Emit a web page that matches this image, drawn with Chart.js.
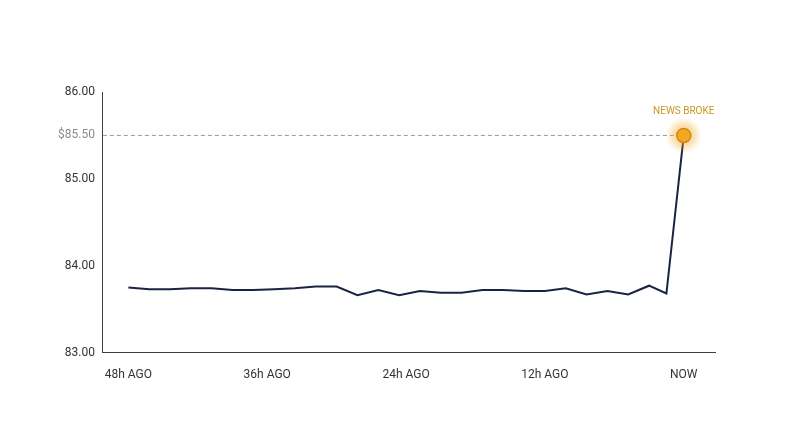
<!DOCTYPE html>
<html>
<head>
<script src="https://cdn.jsdelivr.net/npm/chart.js"></script>
<style>
  body { margin: 0; background: #fff; font-family: Roboto, sans-serif; }
  #wrap { width: 800px; height: 447px; }
</style>
</head>
<body>
<div id="wrap"><canvas id="c"></canvas></div>
<script>
// hours relative to now, and price
const hours = [-48, -46.2, -44.4, -42.6, -40.8, -39, -37.2, -35.4, -33.6, -31.8, -30, -28.2, -26.4, -24.6, -22.8, -21, -19.2, -17.4, -15.6, -13.8, -12, -10.2, -8.4, -6.6, -4.8, -3, -1.5, 0];
const prices = [83.75, 83.73, 83.73, 83.74, 83.74, 83.72, 83.72, 83.73, 83.74, 83.76, 83.76, 83.66, 83.72, 83.66, 83.71, 83.69, 83.69, 83.72, 83.72, 83.71, 83.71, 83.74, 83.67, 83.71, 83.67, 83.77, 83.68, 85.50];
const xTicks = [-48, -36, -24, -12, 0];
const xTickLabels = ['48h AGO', '36h AGO', '24h AGO', '12h AGO', 'NOW'];
const yTicks = [83, 84, 85, 85.5, 86];
const markLevel = 85.5;
const markLabel = 'NEWS BROKE';

const newsPlugin = {
  id: 'news',
  beforeDatasetsDraw(chart) {
    const { ctx, chartArea, scales } = chart;
    const y = scales.y.getPixelForValue(markLevel);
    const xEnd = scales.x.getPixelForValue(hours[hours.length - 1]);
    ctx.save();
    ctx.strokeStyle = '#9a9a9a';
    ctx.lineWidth = 1;
    ctx.setLineDash([4, 3]);
    ctx.beginPath();
    ctx.moveTo(chartArea.left, y);
    ctx.lineTo(xEnd, y);
    ctx.stroke();
    ctx.restore();
  },
  afterDatasetsDraw(chart) {
    const { ctx, scales } = chart;
    const x = scales.x.getPixelForValue(hours[hours.length - 1]);
    const y = scales.y.getPixelForValue(prices[prices.length - 1]);
    ctx.save();
    const g = ctx.createRadialGradient(x, y, 4, x, y, 18);
    g.addColorStop(0, 'rgba(245,166,35,0.6)');
    g.addColorStop(1, 'rgba(245,166,35,0)');
    ctx.fillStyle = g;
    ctx.beginPath(); ctx.arc(x, y, 18, 0, Math.PI * 2); ctx.fill();
    ctx.fillStyle = '#f5a623';
    ctx.strokeStyle = '#d48a10';
    ctx.lineWidth = 1.5;
    ctx.beginPath(); ctx.arc(x, y, 7, 0, Math.PI * 2); ctx.fill(); ctx.stroke();
    ctx.fillStyle = '#c8961e';
    ctx.font = '10px Roboto';
    ctx.textAlign = 'center';
    ctx.fillText(markLabel, x, y - 21);
    ctx.restore();
  }
};

new Chart(document.getElementById('c'), {
  type: 'line',
  data: {
    datasets: [{
      data: hours.map((h, i) => ({ x: h, y: prices[i] })),
      borderColor: '#1b2345',
      borderWidth: 2,
      pointRadius: 0,
      tension: 0
    }]
  },
  options: {
    responsive: true,
    maintainAspectRatio: false,
    animation: false,
    layout: { padding: { top: 92, right: 85, bottom: 50, left: 50 } },
    plugins: { legend: { display: false }, tooltip: { enabled: false } },
    scales: {
      x: {
        type: 'linear', min: -50.2, max: 2.7,
        afterBuildTicks: s => { s.ticks = xTicks.map(v => ({ value: v })); },
        grid: { display: false, drawTicks: false },
        border: { color: '#3a3f4a', width: 1 },
        ticks: {
          padding: 15, color: '#333', font: { family: 'Roboto', size: 12 },
          callback: v => xTickLabels[xTicks.indexOf(v)]
        }
      },
      y: {
        min: 83, max: 86,
        afterBuildTicks: s => { s.ticks = yTicks.map(v => ({ value: v })); },
        grid: { display: false, drawTicks: false },
        border: { color: '#3a3f4a', width: 1 },
        ticks: {
          padding: 8, font: { family: 'Roboto', size: 12 },
          color: c => c.tick.value === markLevel ? '#8a8a8a' : '#333',
          callback: v => v === markLevel ? '$' + v.toFixed(2) : v.toFixed(2)
        }
      }
    }
  },
  plugins: [newsPlugin]
});
</script>
</body>
</html>
